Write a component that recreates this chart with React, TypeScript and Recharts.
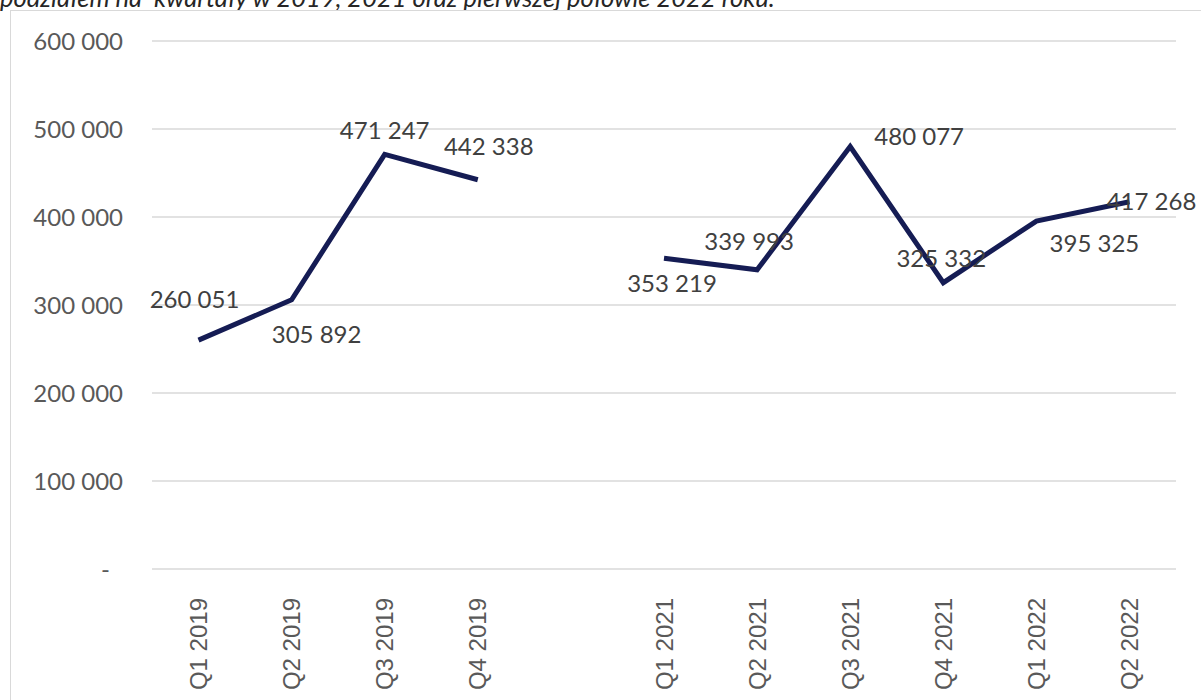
import React from "react";
import { LineChart, Line, XAxis, YAxis, CartesianGrid, LabelList } from "recharts";

const categories = ["Q1 2019", "Q2 2019", "Q3 2019", "Q4 2019", "", "Q1 2021", "Q2 2021", "Q3 2021", "Q4 2021", "Q1 2022", "Q2 2022"];
const values: (number | null)[] = [260051, 305892, 471247, 442338, null, 353219, 339993, 480077, 325332, 395325, 417268];
const yTicks = [0, 100000, 200000, 300000, 400000, 500000, 600000];
const titleText = "podziałem na  kwartały w 2019, 2021 oraz pierwszej połowie 2022 roku.";

// label placement offsets (dx, dy of label centre from point), per category index
const LABEL_OFFSETS: [number, number][] = [
  [-4, -41], [25, 35], [0, -24], [11, -33], [0, 0],
  [8, 25], [-8, -28], [69, -10], [-2, -24], [58, 22], [22, 0],
];

const data = categories.map((c, i) => ({ cat: c, value: values[i] }));

const fmt = (v: number) => v.toLocaleString("en-US").replace(/,/g, " ");

const YTick = (props: any) => {
  const { x, y, payload } = props;
  const v = payload.value as number;
  return (
    <text x={v === 0 ? x - 13 : x} y={y} dy="0.36em" textAnchor="end" fill="#595959"
      style={{ fontFamily: "Lato", fontSize: 24 }}>
      {v === 0 ? "-" : fmt(v)}
    </text>
  );
};

const XTick = (props: any) => {
  const { x, y, payload } = props;
  if (!payload.value) return null;
  return (
    <text x={0} y={0} dy="0.36em" textAnchor="end" fill="#595959"
      transform={`translate(${x},${y + 21}) rotate(-90)`}
      style={{ fontFamily: "Liberation Sans", fontSize: 24 }}>
      {payload.value}
    </text>
  );
};

const DataLabel = (props: any) => {
  const { x, y, value, index } = props;
  if (value == null) return null;
  const [dx, dy] = LABEL_OFFSETS[index] || [0, 0];
  return (
    <text x={x + dx} y={y + dy + 8.5} textAnchor="middle" fill="#404040"
      style={{ fontFamily: "Lato", fontSize: 24 }}>
      {fmt(value)}
    </text>
  );
};

export default function App() {
  return (
    <div style={{ position: "absolute", left: 0, top: 0, width: 1201, height: 700, overflow: "hidden", background: "#fff" }}>
      <div style={{ position: "absolute", left: 0, top: -18, fontFamily: "Lato", fontStyle: "italic", fontSize: 25.5, color: "#262626", whiteSpace: "pre", lineHeight: 1.2 }}>
        {titleText}
      </div>
      <div style={{ position: "absolute", left: 10, top: 10, width: 1220, height: 720, border: "1.5px solid #d9d9d9", boxSizing: "border-box" }} />
      <div style={{ position: "absolute", left: 0, top: 0 }}>
        <LineChart width={1201} height={700} data={data} margin={{ top: 41, right: 25, bottom: 0, left: 0 }}>
          <CartesianGrid horizontal vertical={false} stroke="#d9d9d9" strokeWidth={1.5} />
          <XAxis dataKey="cat" interval={0} height={131} tickLine={false} axisLine={false} tick={<XTick />}
            padding={{ left: 46.5, right: 46.5 }} />
          <YAxis width={152} domain={[0, 600000]} ticks={yTicks} tickLine={false} axisLine={false}
            tickSize={0} tickMargin={29} tick={<YTick />} interval={0} />
          <Line dataKey="value" stroke="#151c54" strokeWidth={5} dot={false} isAnimationActive={false}
            connectNulls={false} strokeLinejoin="miter">
            <LabelList dataKey="value" content={<DataLabel />} />
          </Line>
        </LineChart>
      </div>
    </div>
  );
}
